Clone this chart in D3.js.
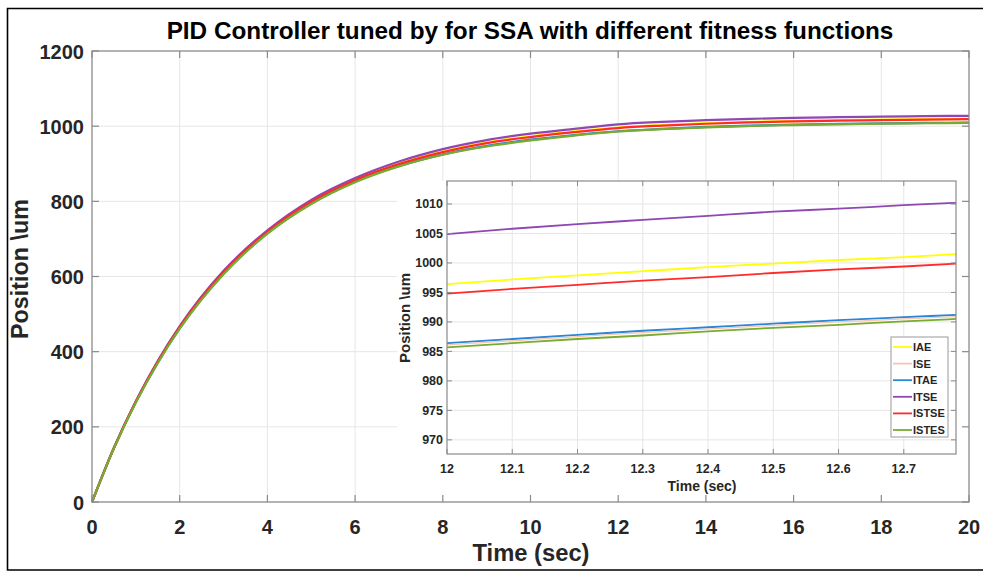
<!DOCTYPE html>
<html>
<head>
<meta charset="utf-8">
<script src="https://cdn.jsdelivr.net/npm/d3@7"></script>
<style>
  html, body { margin: 0; padding: 0; background: #fff; }
  svg { display: block; }
  text { font-family: "Liberation Sans", Arial, Helvetica, sans-serif; font-weight: bold; }
</style>
</head>
<body>
<svg id="chart" width="983" height="572"></svg>
<script>
// ---------- DATA ----------
const seriesNames = ["IAE", "ISE", "ITAE", "ITSE", "ISTSE", "ISTES"];
const seriesColors = ["#ffff00", "#f9c6b4", "#2a86d6", "#8f47b3", "#ff2b2b", "#77ac30"];

const times = [0, 0.5, 1, 1.5, 2, 3, 4, 5, 6, 7, 8, 9, 10, 11, 12, 13, 14, 15, 16, 17, 18, 19, 20];
const IAE   = [0, 144, 268, 374, 466, 612, 720, 800, 858, 901, 933, 957, 973, 986, 996.5, 1003, 1008, 1011.5, 1014, 1016, 1017.5, 1018.7, 1019.5];
const ISE   = [0, 143, 266, 371, 462, 607, 715, 794, 852, 894, 925, 947, 963, 976, 986, 992.5, 997.5, 1001, 1003.5, 1005.5, 1007, 1008, 1009];
const ITAE  = [0, 143, 266, 371, 462, 607, 715, 794, 852, 894, 925, 948, 964, 976.5, 986.5, 993, 998, 1001.5, 1004, 1006, 1007.5, 1008.5, 1009.5];
const ITSE  = [0, 145, 269, 376, 468, 615, 723, 804, 862, 906, 939, 963, 980, 993, 1005, 1011.5, 1016, 1019.5, 1022, 1024, 1025.5, 1026.7, 1027.6];
const ISTSE = [0, 144, 267, 373, 465, 611, 719, 799, 857, 899, 931, 955, 971, 984, 995, 1001.5, 1006.5, 1010, 1012.5, 1014.5, 1016, 1017.3, 1018.5];
const ISTES = [0, 143, 265, 370, 461, 606, 714, 793, 851, 893, 924, 946, 962, 975, 985.8, 992, 997, 1000.5, 1003, 1005, 1006.5, 1007.7, 1008.7];

const insetTimes = [12, 12.1, 12.2, 12.3, 12.4, 12.5, 12.6, 12.7, 12.78];
const inIAE   = [996.4, 997.2, 997.9, 998.6, 999.3, 999.9, 1000.5, 1001.0, 1001.5];
const inISE   = [986.1, 986.8, 987.5, 988.2, 988.8, 989.4, 990.0, 990.5, 990.9];
const inITAE  = [986.4, 987.1, 987.8, 988.5, 989.1, 989.7, 990.3, 990.8, 991.2];
const inITSE  = [1004.9, 1005.8, 1006.6, 1007.3, 1008.0, 1008.7, 1009.2, 1009.8, 1010.2];
const inISTSE = [994.8, 995.6, 996.3, 997.0, 997.6, 998.3, 998.9, 999.4, 999.9];
const inISTES = [985.7, 986.4, 987.1, 987.7, 988.4, 989.0, 989.5, 990.1, 990.5];

const mainXTicks = [0, 2, 4, 6, 8, 10, 12, 14, 16, 18, 20];
const mainYTicks = [0, 200, 400, 600, 800, 1000, 1200];
const insetXTicks = [12, 12.1, 12.2, 12.3, 12.4, 12.5, 12.6, 12.7];
const insetYTicks = [970, 975, 980, 985, 990, 995, 1000, 1005, 1010];

const titleText = "PID Controller tuned by for SSA with different fitness functions";
const xLabel = "Time (sec)";
const yLabel = "Position \\um";

const mainSeries = [IAE, ISE, ITAE, ITSE, ISTSE, ISTES];
const insetSeries = [inIAE, inISE, inITAE, inITSE, inISTSE, inISTES];

// ---------- DRAW ----------
const svg = d3.select("#chart");
const axisCol = "#8a8a8a", gridCol = "#e6e6e6", tickTextCol = "#262626";

// outer frame
svg.append("path").attr("d", "M983,8.5 H7.5 V570 H983")
  .attr("fill", "none").attr("stroke", "#000").attr("stroke-width", 1.6);

const x = d3.scaleLinear().domain([0, 20]).range([92, 969]);
const y = d3.scaleLinear().domain([0, 1200]).range([502, 51]);

// main grid
const gMain = svg.append("g");
gMain.selectAll(".vg").data(mainXTicks.slice(1, -1)).join("line")
  .attr("x1", d => x(d)).attr("x2", d => x(d)).attr("y1", y(0)).attr("y2", y(1200))
  .attr("stroke", gridCol).attr("stroke-width", 1);
gMain.selectAll(".hg").data(mainYTicks.slice(1, -1)).join("line")
  .attr("x1", x(0)).attr("x2", x(20)).attr("y1", d => y(d)).attr("y2", d => y(d))
  .attr("stroke", gridCol).attr("stroke-width", 1);

// main curves
const line = d3.line().x((d, i) => x(times[i])).y(d => y(d)).curve(d3.curveMonotoneX);
mainSeries.forEach((s, k) => {
  gMain.append("path").attr("d", line(s)).attr("fill", "none")
    .attr("stroke", seriesColors[k]).attr("stroke-width", 2.2);
});

// inset white background (covers main grid)
const xi = d3.scaleLinear().domain([12, 12.78]).range([447, 956]);
const yi = d3.scaleLinear().domain([967.6, 1013.9]).range([454, 181]);
svg.append("rect").attr("x", 397).attr("y", yi(1013.9)).attr("width", x(20) - 397)
  .attr("height", y(0) - yi(1013.9)).attr("fill", "#fff");

// main box and ticks
const gAx = svg.append("g");
gAx.append("rect").attr("x", x(0)).attr("y", y(1200)).attr("width", x(20) - x(0))
  .attr("height", y(0) - y(1200)).attr("fill", "none").attr("stroke", axisCol).attr("stroke-width", 1.3);
const tl = 7;
mainXTicks.forEach(t => {
  gAx.append("line").attr("x1", x(t)).attr("x2", x(t)).attr("y1", y(0)).attr("y2", y(0) - tl).attr("stroke", axisCol).attr("stroke-width", 1.2);
  gAx.append("line").attr("x1", x(t)).attr("x2", x(t)).attr("y1", y(1200)).attr("y2", y(1200) + tl).attr("stroke", axisCol).attr("stroke-width", 1.2);
});
mainYTicks.forEach(t => {
  gAx.append("line").attr("x1", x(0)).attr("x2", x(0) + tl).attr("y1", y(t)).attr("y2", y(t)).attr("stroke", axisCol).attr("stroke-width", 1.2);
  gAx.append("line").attr("x1", x(20)).attr("x2", x(20) - tl).attr("y1", y(t)).attr("y2", y(t)).attr("stroke", axisCol).attr("stroke-width", 1.2);
});
gAx.selectAll(".xt").data(mainXTicks).join("text")
  .attr("x", d => x(d)).attr("y", 534).attr("text-anchor", "middle")
  .attr("font-size", 20).attr("fill", tickTextCol).text(d => d);
gAx.selectAll(".yt").data(mainYTicks).join("text")
  .attr("x", 84).attr("y", d => y(d) + 7.5).attr("text-anchor", "end")
  .attr("font-size", 20).attr("fill", tickTextCol).text(d => d);

function fitWidth(sel, target) {
  const w = sel.node().getComputedTextLength();
  const fs = parseFloat(sel.attr("font-size"));
  sel.attr("font-size", (fs * target / w).toFixed(2));
}

const title = svg.append("text").attr("x", 530).attr("y", 39).attr("text-anchor", "middle")
  .attr("font-size", 21).attr("fill", "#000").text(titleText);
fitWidth(title, 727);

const xl = svg.append("text").attr("x", 531).attr("y", 561).attr("text-anchor", "middle")
  .attr("font-size", 23).attr("fill", tickTextCol).text(xLabel);
fitWidth(xl, 117);

const yl = svg.append("text").attr("transform", "translate(28,269) rotate(-90)")
  .attr("text-anchor", "middle").attr("font-size", 23).attr("fill", tickTextCol).text(yLabel);
fitWidth(yl, 140);

// ---------- INSET ----------
const gIn = svg.append("g");
gIn.append("rect").attr("x", xi(12)).attr("y", yi(1013.9)).attr("width", xi(12.78) - xi(12))
  .attr("height", yi(967.6) - yi(1013.9)).attr("fill", "#fff");
gIn.selectAll(".ivg").data(insetXTicks.slice(1)).join("line")
  .attr("x1", d => xi(d)).attr("x2", d => xi(d)).attr("y1", yi(967.6)).attr("y2", yi(1013.9))
  .attr("stroke", gridCol).attr("stroke-width", 1);
gIn.selectAll(".ihg").data(insetYTicks).join("line")
  .attr("x1", xi(12)).attr("x2", xi(12.78)).attr("y1", d => yi(d)).attr("y2", d => yi(d))
  .attr("stroke", gridCol).attr("stroke-width", 1);

const lineIn = d3.line().x((d, i) => xi(insetTimes[i])).y(d => yi(d)).curve(d3.curveMonotoneX);
const drawOrder = [0, 2, 1, 3, 4, 5];
drawOrder.forEach(k => {
  gIn.append("path").attr("d", lineIn(insetSeries[k])).attr("fill", "none")
    .attr("stroke", seriesColors[k]).attr("stroke-width", k === 1 ? 1.2 : 1.8);
});

gIn.append("rect").attr("x", xi(12)).attr("y", yi(1013.9)).attr("width", xi(12.78) - xi(12))
  .attr("height", yi(967.6) - yi(1013.9)).attr("fill", "none").attr("stroke", axisCol).attr("stroke-width", 1.2);
const til = 5;
insetXTicks.forEach(t => {
  gIn.append("line").attr("x1", xi(t)).attr("x2", xi(t)).attr("y1", yi(967.6)).attr("y2", yi(967.6) - til).attr("stroke", axisCol);
  gIn.append("line").attr("x1", xi(t)).attr("x2", xi(t)).attr("y1", yi(1013.9)).attr("y2", yi(1013.9) + til).attr("stroke", axisCol);
});
insetYTicks.forEach(t => {
  gIn.append("line").attr("x1", xi(12)).attr("x2", xi(12) + til).attr("y1", yi(t)).attr("y2", yi(t)).attr("stroke", axisCol);
  gIn.append("line").attr("x1", xi(12.78)).attr("x2", xi(12.78) - til).attr("y1", yi(t)).attr("y2", yi(t)).attr("stroke", axisCol);
});
gIn.selectAll(".ixt").data(insetXTicks).join("text")
  .attr("x", d => xi(d)).attr("y", 473).attr("text-anchor", "middle")
  .attr("font-size", 12.5).attr("fill", tickTextCol).text(d => d);
gIn.selectAll(".iyt").data(insetYTicks).join("text")
  .attr("x", 443).attr("y", d => yi(d) + 4.5).attr("text-anchor", "end")
  .attr("font-size", 12.5).attr("fill", tickTextCol).text(d => d);

const ixl = gIn.append("text").attr("x", 702).attr("y", 491).attr("text-anchor", "middle")
  .attr("font-size", 13).attr("fill", tickTextCol).text(xLabel);
fitWidth(ixl, 69);
const iyl = gIn.append("text").attr("transform", "translate(410,318) rotate(-90)")
  .attr("text-anchor", "middle").attr("font-size", 13).attr("fill", tickTextCol).text(yLabel);
fitWidth(iyl, 90);

// legend
const lg = gIn.append("g");
lg.append("rect").attr("x", 891).attr("y", 337).attr("width", 57).attr("height", 100)
  .attr("fill", "#fff").attr("stroke", "#999").attr("stroke-width", 1);
seriesNames.forEach((n, k) => {
  const cy = 347 + k * 16.6;
  lg.append("line").attr("x1", 893).attr("x2", 912).attr("y1", cy).attr("y2", cy)
    .attr("stroke", seriesColors[k]).attr("stroke-width", 1.8);
  lg.append("text").attr("x", 913).attr("y", cy + 4).attr("font-size", 11)
    .attr("fill", tickTextCol).text(n);
});
</script>
</body>
</html>
